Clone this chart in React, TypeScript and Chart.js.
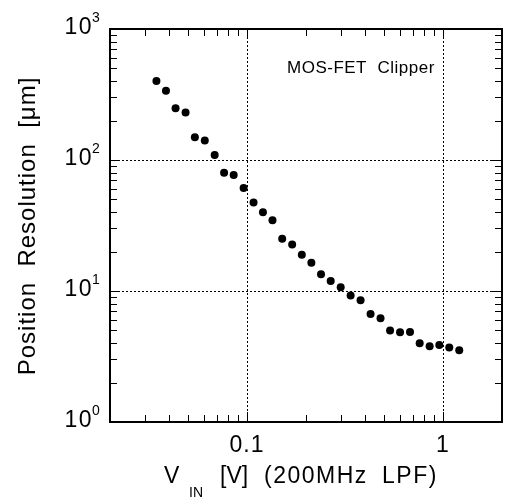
import React, { useEffect, useRef } from "react";
import { Chart, registerables } from "chart.js";

Chart.register(...registerables);

// Input voltage V_IN [V]
const vin = [
  0.0345, 0.0386, 0.0432, 0.0486, 0.0542, 0.0609, 0.0684, 0.0764, 0.0855, 0.0961,
  0.108, 0.1206, 0.1349, 0.1512, 0.17, 0.1904, 0.213, 0.2386, 0.2673, 0.3006,
  0.3379, 0.3798, 0.427, 0.48, 0.537, 0.6037, 0.6787, 0.7603, 0.8547, 0.9576,
  1.0764, 1.2103,
];
// Position resolution [µm]
const resolution = [
  401, 338, 248, 230, 149, 141, 109, 79.8, 76.7, 61.0,
  47.4, 40.0, 34.7, 25.1, 22.6, 18.9, 16.4, 13.4, 11.9, 10.7,
  9.24, 8.51, 6.68, 6.2, 4.99, 4.84, 4.87, 3.99, 3.79, 3.87,
  3.7, 3.53,
];

const xMin = 0.02;
const xMax = 2;
const yMin = 1;
const yMax = 1000;
const xTickValues = [0.1, 1];
const xTickLabels = ["0.1", "1"];
const yDecadeExponents = [0, 1, 2, 3];
const annotationText = "MOS-FET  Clipper";
const yTitle = "Position  Resolution  [\u03bcm]";

const FONT = "'Liberation Sans', Arial, Helvetica, sans-serif";

function minorValues(min: number, max: number): { v: number; major: boolean }[] {
  const out: { v: number; major: boolean }[] = [];
  let dec = Math.pow(10, Math.floor(Math.log10(min)));
  while (dec <= max) {
    for (let k = 1; k <= 9; k++) {
      const v = k * dec;
      if (v >= min * 0.999 && v <= max * 1.001) out.push({ v, major: k === 1 });
    }
    dec *= 10;
  }
  return out;
}

const axesPlugin = {
  id: "customAxes",
  beforeDatasetsDraw(chart: any) {
    const { ctx, chartArea: a, scales } = chart;
    const x = scales.x;
    const y = scales.y;
    ctx.save();
    ctx.strokeStyle = "#000";
    ctx.lineWidth = 1;
    ctx.setLineDash([2, 2]);
    for (const v of xTickValues) {
      const px = Math.round(x.getPixelForValue(v)) + 0.5;
      ctx.beginPath();
      ctx.moveTo(px, a.top);
      ctx.lineTo(px, a.bottom);
      ctx.stroke();
    }
    for (const e of [1, 2]) {
      const py = Math.round(y.getPixelForValue(Math.pow(10, e))) + 0.5;
      ctx.beginPath();
      ctx.moveTo(a.left, py);
      ctx.lineTo(a.right, py);
      ctx.stroke();
    }
    ctx.restore();
  },
  afterDatasetsDraw(chart: any) {
    const { ctx, chartArea: a, scales } = chart;
    const x = scales.x;
    const y = scales.y;
    ctx.save();
    ctx.setLineDash([]);
    ctx.strokeStyle = "#000";
    // ticks (inward)
    ctx.lineWidth = 1;
    const tl = 7;
    for (const t of minorValues(xMin, xMax)) {
      const px = Math.round(x.getPixelForValue(t.v)) + 0.5;
      const len = t.major ? 10 : tl;
      ctx.beginPath();
      ctx.moveTo(px, a.bottom);
      ctx.lineTo(px, a.bottom - len);
      ctx.moveTo(px, a.top);
      ctx.lineTo(px, a.top + len);
      ctx.stroke();
    }
    for (const t of minorValues(yMin, yMax)) {
      const py = Math.round(y.getPixelForValue(t.v)) + 0.5;
      const len = t.major ? 10 : tl;
      ctx.beginPath();
      ctx.moveTo(a.left, py);
      ctx.lineTo(a.left + len, py);
      ctx.moveTo(a.right, py);
      ctx.lineTo(a.right - len, py);
      ctx.stroke();
    }
    // frame
    ctx.lineWidth = 2;
    ctx.strokeRect(a.left, a.top, a.right - a.left, a.bottom - a.top);

    ctx.fillStyle = "#000";
    // y tick labels 10^n
    for (const e of yDecadeExponents) {
      const py = y.getPixelForValue(Math.pow(10, e));
      ctx.font = `23px ${FONT}`;
      (ctx as any).letterSpacing = "1.5px";
      ctx.textAlign = "right";
      ctx.textBaseline = "alphabetic";
      ctx.fillText("10", a.left - 17, py + 5);
      (ctx as any).letterSpacing = "0px";
      ctx.font = `14px ${FONT}`;
      ctx.textAlign = "left";
      ctx.fillText(String(e), a.left - 18, py - 7);
    }
    // x tick labels
    ctx.font = `23px ${FONT}`;
    (ctx as any).letterSpacing = "1px";
    ctx.textAlign = "center";
    xTickValues.forEach((v, i) => {
      const px = x.getPixelForValue(v);
      ctx.fillText(xTickLabels[i], px, a.bottom + 30);
    });
    // x title
    ctx.textAlign = "left";
    ctx.font = `23px ${FONT}`;
    (ctx as any).letterSpacing = "0px";
    ctx.fillText("V", 164, 483);
    ctx.font = `14px ${FONT}`;
    ctx.fillText("IN", 189, 497);
    ctx.font = `23px ${FONT}`;
    ctx.fillText("[V]", 220, 483);
    (ctx as any).letterSpacing = "1.5px";
    ctx.fillText("(200MHz", 264, 483);
    ctx.fillText("LPF)", 382, 483);
    // y title
    ctx.save();
    ctx.translate(35, 226);
    ctx.rotate(-Math.PI / 2);
    ctx.font = `24px ${FONT}`;
    (ctx as any).letterSpacing = "1px";
    ctx.textAlign = "center";
    ctx.textBaseline = "alphabetic";
    ctx.fillText(yTitle, 0, 0);
    ctx.restore();
    // annotation
    ctx.font = `17px ${FONT}`;
    (ctx as any).letterSpacing = "0.5px";
    ctx.textAlign = "left";
    ctx.fillText(annotationText, 287, 73);
    ctx.restore();
  },
};

export default function App() {
  const ref = useRef<HTMLCanvasElement | null>(null);
  useEffect(() => {
    if (!ref.current) return;
    const chart = new Chart(ref.current, {
      type: "scatter",
      data: {
        datasets: [
          {
            label: "MOS-FET Clipper",
            data: vin.map((v, i) => ({ x: v, y: resolution[i] })),
            backgroundColor: "#000",
            borderColor: "#000",
            borderWidth: 0,
            pointRadius: 4,
            pointHoverRadius: 4,
            showLine: false,
          },
        ],
      },
      options: {
        responsive: false,
        animation: false,
        layout: { padding: { left: 110, top: 29, right: 4, bottom: 75 } },
        plugins: {
          legend: { display: false },
          tooltip: { enabled: false },
        },
        scales: {
          x: { type: "logarithmic", min: xMin, max: xMax, display: false },
          y: { type: "logarithmic", min: yMin, max: yMax, display: false },
        },
      },
      plugins: [axesPlugin],
    });
    return () => chart.destroy();
  }, []);
  return (
    <div style={{ position: "fixed", left: 0, top: 0, width: 506, height: 497, background: "#fff" }}>
      <canvas ref={ref} width={506} height={497} style={{ display: "block" }} />
    </div>
  );
}
